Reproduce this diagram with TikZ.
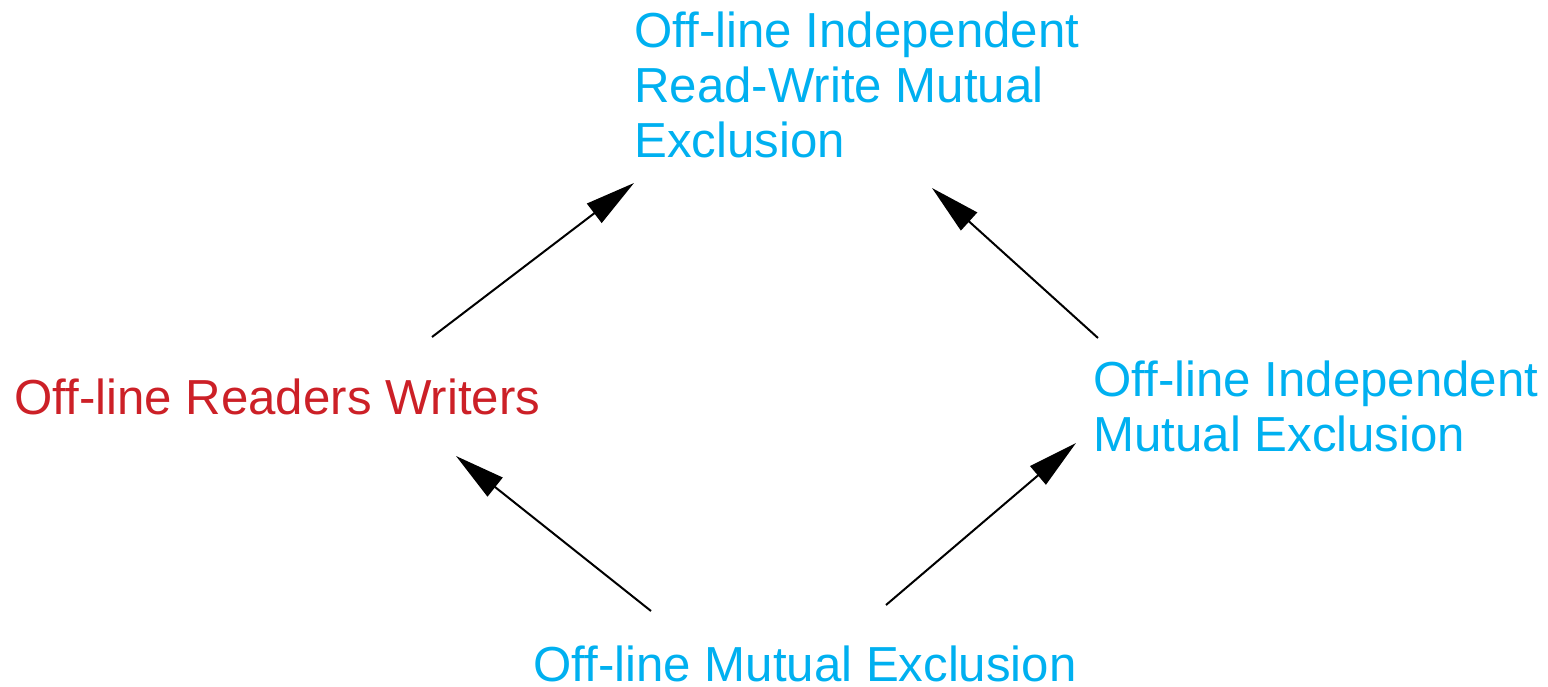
\documentclass[tikz,border=0pt]{standalone}
\usepackage{fontspec}
\setmainfont[Ligatures={NoCommon}]{Liberation Sans}
\usetikzlibrary{arrows.meta}
\definecolor{skyblue}{RGB}{0,176,240}
\definecolor{brickred}{RGB}{204,32,39}
\begin{document}
\begin{tikzpicture}[x=0.5pt,y=-0.5pt,
  txt/.style={anchor=base west, inner sep=0pt, align=left,
              font=\fontsize{24.6}{27.5}\selectfont},
  link/.style={line width=1pt, -{Triangle[length=25pt,width=12pt]}}]
\useasboundingbox (0,0) rectangle (1548,686);

% concepts (anchored at the baseline of the last line)
\node[txt, text=skyblue]  (rwme) at (634,157)  {Off-line Independent\\Read-Write Mutual\\Exclusion};
\node[txt, text=brickred] (rdwr) at (14,414)   {Off-line Readers Writers};
\node[txt, text=skyblue]  (ime)  at (1093,451) {Off-line Independent\\Mutual Exclusion};
\node[txt, text=skyblue]  (me)   at (533,681)  {Off-line Mutual Exclusion};

% connector ends
\coordinate (rdwr-out) at (432,337);
\coordinate (rwme-in1) at (634,183);
\coordinate (ime-out)  at (1098,338);
\coordinate (rwme-in2) at (932,188);
\coordinate (me-out1)  at (651,611);
\coordinate (rdwr-in)  at (456,456);
\coordinate (me-out2)  at (886,605);
\coordinate (ime-in)   at (1076,443);

% refinement arrows
\draw[link] (rdwr-out) -- (rwme-in1);
\draw[link] (ime-out)  -- (rwme-in2);
\draw[link] (me-out1)  -- (rdwr-in);
\draw[link] (me-out2)  -- (ime-in);
\end{tikzpicture}
\end{document}
